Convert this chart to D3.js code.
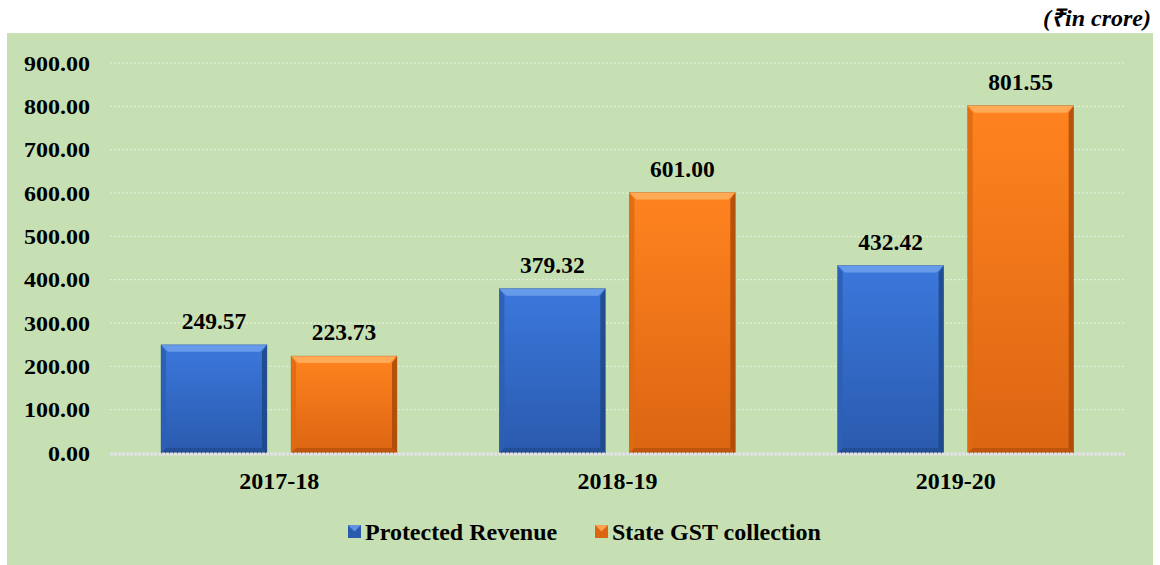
<!DOCTYPE html>
<html><head><meta charset="utf-8">
<script src="https://cdn.jsdelivr.net/npm/d3@7"></script>
<style>body{margin:0;background:#fff}svg{display:block}</style>
</head><body>
<script>
const categories = ["2017-18", "2018-19", "2019-20"];
const seriesNames = ["Protected Revenue", "State GST collection"];
const protectedRevenue = [249.57, 379.32, 432.42];
const stateGST = [223.73, 601.00, 801.55];
const yTicks = [0, 100, 200, 300, 400, 500, 600, 700, 800, 900];
const unitLabel = "(\u20B9in crore)";

const W = 1160, H = 565;
const FONT = "'Liberation Serif', 'Times New Roman', serif";
const svg = d3.select("body").append("svg").attr("width", W).attr("height", H);
const defs = svg.append("defs");

const palettes = [
  {top:"#3b78dc", bot:"#2a5aae", hl:"#6fa0ec", side:"#2c5fb5", dark:"#1f4685", edge:"#24508f"},
  {top:"#ff831f", bot:"#dc6512", hl:"#ffb160", side:"#e06a12", dark:"#a84a08", edge:"#b85a10"}
];
palettes.forEach((p,i)=>{
  const g = defs.append("linearGradient").attr("id","g"+i).attr("x1",0).attr("y1",0).attr("x2",0).attr("y2",1);
  g.append("stop").attr("offset","0%").attr("stop-color",p.top);
  g.append("stop").attr("offset","100%").attr("stop-color",p.bot);
});

svg.append("rect").attr("x",7).attr("y",33).attr("width",1146).attr("height",532).attr("fill","#c6e0b4");

svg.append("text").attr("x",1151).attr("y",26).attr("text-anchor","end")
  .attr("font-family",FONT).attr("font-weight","bold").attr("font-style","italic")
  .attr("font-size",24).attr("fill","#000").text(unitLabel);

const x0 = d3.scaleBand().domain(categories).range([110,1125]).paddingInner(0).paddingOuter(0);
const x1 = d3.scaleBand().domain(seriesNames).range([51, 338-51]).paddingInner(0.185);
const y = d3.scaleLinear().domain([0,900]).range([453,63]);

// gridlines
svg.append("g").selectAll("line").data(yTicks.slice(1)).join("line")
  .attr("x1",110).attr("x2",1125).attr("y1",d=>y(d)).attr("y2",d=>y(d))
  .attr("stroke","#eef5e8").attr("stroke-width",1).attr("stroke-dasharray","2,2").attr("opacity",0.9);

// y axis labels
const yAxis = d3.axisLeft(y).tickValues(yTicks).tickFormat(d=>d3.format(".2f")(d)).tickSize(0).tickPadding(0);
const ya = svg.append("g").attr("transform","translate(90,0)").call(yAxis);
ya.select(".domain").remove();
ya.selectAll("text").attr("font-family",FONT).attr("font-weight","bold")
  .attr("font-size",20).attr("fill","#000").attr("dy","0.35em").attr("transform","scale(1.2,1)");

const data = categories.map((c,i)=>({cat:c, vals:[protectedRevenue[i], stateGST[i]]}));

const gCat = svg.append("g").selectAll("g").data(data).join("g")
  .attr("transform",d=>`translate(${x0(d.cat)},0)`);

gCat.each(function(d){
  const g = d3.select(this);
  d.vals.forEach((v,si)=>{
    const p = palettes[si];
    const bx = x1(seriesNames[si]), bw = x1.bandwidth();
    const by = y(v), bh = y(0)-y(v);
    const b = 7, s = 5;
    g.append("rect").attr("x",bx).attr("y",by).attr("width",bw).attr("height",bh).attr("fill",`url(#g${si})`);
    g.append("path").attr("d",`M${bx},${by}L${bx+bw},${by}L${bx+bw-b},${by+b}L${bx+b},${by+b}Z`).attr("fill",p.hl).attr("opacity",0.85);
    g.append("path").attr("d",`M${bx},${by}L${bx+s},${by+b}L${bx+s},${by+bh-s}L${bx},${by+bh}Z`).attr("fill",p.side).attr("opacity",0.9);
    g.append("path").attr("d",`M${bx+bw},${by}L${bx+bw-s},${by+b}L${bx+bw-s},${by+bh-s}L${bx+bw},${by+bh}Z`).attr("fill",p.dark).attr("opacity",0.85);
    g.append("path").attr("d",`M${bx},${by+bh}L${bx+s},${by+bh-s}L${bx+bw-s},${by+bh-s}L${bx+bw},${by+bh}Z`).attr("fill",p.dark).attr("opacity",0.6);
    g.append("rect").attr("x",bx).attr("y",by).attr("width",bw).attr("height",bh).attr("fill","none").attr("stroke",p.edge).attr("stroke-width",0.6).attr("opacity",0.6);
    g.append("text").attr("x",bx+bw/2).attr("y",by-16).attr("text-anchor","middle")
      .attr("font-family",FONT).attr("font-weight","bold").attr("font-size",23.5)
      .attr("fill","#000").text(d3.format(".2f")(v));
  });
});

// baseline
svg.append("line").attr("x1",110).attr("x2",1125).attr("y1",y(0)+1).attr("y2",y(0)+1)
  .attr("stroke","#e2e2e2").attr("stroke-width",3).attr("stroke-dasharray","3,1");

// x axis labels
const xAxis = d3.axisBottom(x0).tickSize(0).tickPadding(0);
const xa = svg.append("g").attr("transform","translate(0,481)").call(xAxis);
xa.select(".domain").remove();
xa.selectAll("text").attr("font-family",FONT).attr("font-weight","bold")
  .attr("font-size",24).attr("fill","#000").attr("dy","0.35em");

// legend
const legendX = [348, 595];
const lg = svg.append("g");
seriesNames.forEach((n,i)=>{
  const p = palettes[i];
  const lx = legendX[i], ly = 525;
  lg.append("rect").attr("x",lx).attr("y",ly).attr("width",13).attr("height",13).attr("fill",p.bot);
  lg.append("path").attr("d",`M${lx},${ly}L${lx+13},${ly}L${lx+6.5},${ly+6.5}Z`).attr("fill",p.hl).attr("opacity",0.8);
  lg.append("text").attr("x",lx+17).attr("y",ly+7).attr("dy","0.35em")
    .attr("font-family",FONT).attr("font-weight","bold").attr("font-size",24)
    .attr("fill","#000").text(n);
});
</script>
</body></html>
